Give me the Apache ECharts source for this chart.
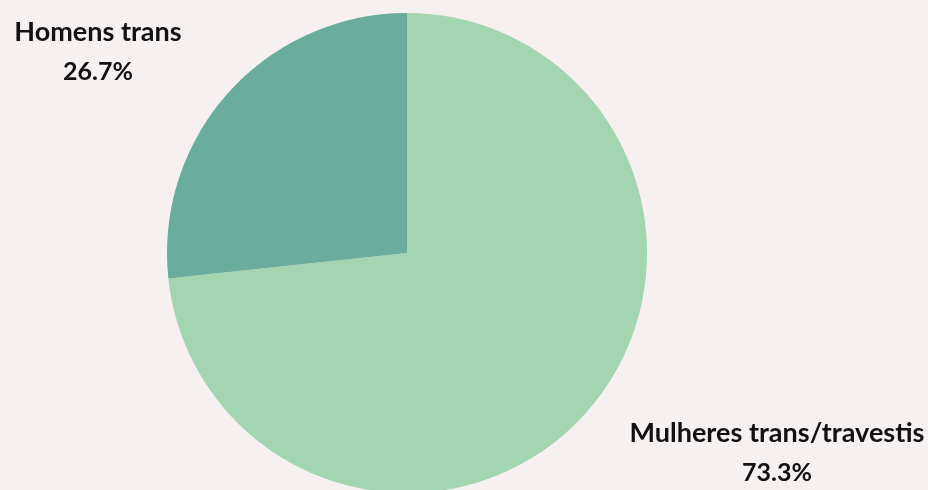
<!DOCTYPE html>
<html>
<head>
<meta charset="utf-8">
<script src="https://cdn.jsdelivr.net/npm/echarts@6/dist/echarts.min.js"></script>
<style>
  html, body { margin: 0; padding: 0; background: #f6f0f0; }
  #chart { width: 928px; height: 490px; }
</style>
</head>
<body>
<div id="chart"></div>
<script>
const categories = ['Mulheres trans/travestis', 'Homens trans']
const shares = [73.3, 26.7]
const colors = ['#a3d5b1', '#6aad9c']

// where each label block sits (pixel centers)
const labelSpots = [[777, 453], [98, 52]]

const chart = echarts.init(document.getElementById('chart'))

const option = {
  backgroundColor: '#f6f0f0',
  series: [
    {
      type: 'pie',
      center: [407, 253],
      radius: [0, 240],
      startAngle: 90,
      clockwise: true,
      silent: true,
      avoidLabelOverlap: false,
      labelLine: { show: false },
      label: {
        show: true,
        position: 'outside',
        align: 'center',
        verticalAlign: 'middle',
        formatter: function (p) {
          return '{n|' + p.name + '}\n{v|' + p.value.toFixed(1) + '%}'
        },
        rich: {
          n: { fontFamily: 'Lato', fontWeight: 'bold', fontSize: 27, color: '#111', lineHeight: 40, align: 'center' },
          v: { fontFamily: 'Lato', fontWeight: 'bold', fontSize: 25, color: '#111', lineHeight: 40, align: 'center' }
        }
      },
      labelLayout: function (params) {
        const spot = labelSpots[params.dataIndex]
        return { x: spot[0], y: spot[1], align: 'center', verticalAlign: 'middle' }
      },
      data: categories.map(function (name, i) {
        return { name: name, value: shares[i], itemStyle: { color: colors[i] } }
      })
    }
  ]
}

chart.setOption(option)
</script>
</body>
</html>
